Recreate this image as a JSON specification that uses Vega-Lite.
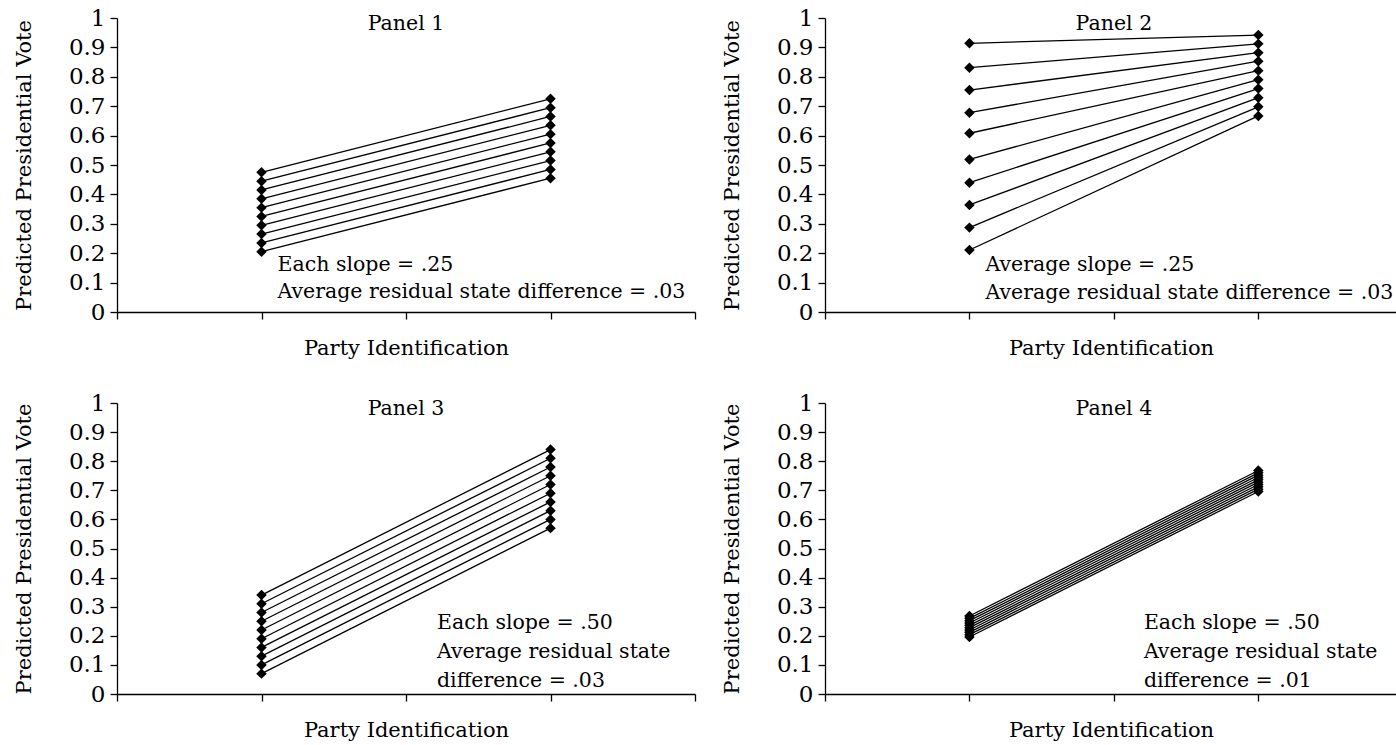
{
  "$schema": "https://vega.github.io/schema/vega-lite/v6.json",
  "background": "white",
  "padding": {"left": 13, "top": 7, "right": 0, "bottom": 0},
  "config": {
    "font": "DejaVu Serif",
    "view": {"stroke": null},
    "axis": {
      "grid": false,
      "domainColor": "black",
      "domainWidth": 1.3,
      "tickColor": "black",
      "tickWidth": 1.3,
      "tickSize": 7,
      "labelColor": "black",
      "titleColor": "black",
      "labelFont": "DejaVu Serif",
      "titleFont": "DejaVu Serif",
      "titleFontWeight": "normal",
      "labelFontSize": 23,
      "titleFontSize": 21
    },
    "text": {"font": "DejaVu Serif", "fontSize": 20.5, "color": "black"}
  },
  "datasets": {
    "votes": [
      {"panel": 1, "state": 1, "party": 1, "vote": 0.205}, {"panel": 1, "state": 1, "party": 3, "vote": 0.455},
      {"panel": 1, "state": 2, "party": 1, "vote": 0.235}, {"panel": 1, "state": 2, "party": 3, "vote": 0.485},
      {"panel": 1, "state": 3, "party": 1, "vote": 0.265}, {"panel": 1, "state": 3, "party": 3, "vote": 0.515},
      {"panel": 1, "state": 4, "party": 1, "vote": 0.295}, {"panel": 1, "state": 4, "party": 3, "vote": 0.545},
      {"panel": 1, "state": 5, "party": 1, "vote": 0.325}, {"panel": 1, "state": 5, "party": 3, "vote": 0.575},
      {"panel": 1, "state": 6, "party": 1, "vote": 0.355}, {"panel": 1, "state": 6, "party": 3, "vote": 0.605},
      {"panel": 1, "state": 7, "party": 1, "vote": 0.385}, {"panel": 1, "state": 7, "party": 3, "vote": 0.635},
      {"panel": 1, "state": 8, "party": 1, "vote": 0.415}, {"panel": 1, "state": 8, "party": 3, "vote": 0.665},
      {"panel": 1, "state": 9, "party": 1, "vote": 0.445}, {"panel": 1, "state": 9, "party": 3, "vote": 0.695},
      {"panel": 1, "state": 10, "party": 1, "vote": 0.475}, {"panel": 1, "state": 10, "party": 3, "vote": 0.725},

      {"panel": 2, "state": 1, "party": 1, "vote": 0.211}, {"panel": 2, "state": 1, "party": 3, "vote": 0.667},
      {"panel": 2, "state": 2, "party": 1, "vote": 0.287}, {"panel": 2, "state": 2, "party": 3, "vote": 0.698},
      {"panel": 2, "state": 3, "party": 1, "vote": 0.364}, {"panel": 2, "state": 3, "party": 3, "vote": 0.729},
      {"panel": 2, "state": 4, "party": 1, "vote": 0.440}, {"panel": 2, "state": 4, "party": 3, "vote": 0.760},
      {"panel": 2, "state": 5, "party": 1, "vote": 0.519}, {"panel": 2, "state": 5, "party": 3, "vote": 0.790},
      {"panel": 2, "state": 6, "party": 1, "vote": 0.608}, {"panel": 2, "state": 6, "party": 3, "vote": 0.821},
      {"panel": 2, "state": 7, "party": 1, "vote": 0.678}, {"panel": 2, "state": 7, "party": 3, "vote": 0.853},
      {"panel": 2, "state": 8, "party": 1, "vote": 0.755}, {"panel": 2, "state": 8, "party": 3, "vote": 0.882},
      {"panel": 2, "state": 9, "party": 1, "vote": 0.831}, {"panel": 2, "state": 9, "party": 3, "vote": 0.912},
      {"panel": 2, "state": 10, "party": 1, "vote": 0.914}, {"panel": 2, "state": 10, "party": 3, "vote": 0.942},

      {"panel": 3, "state": 1, "party": 1, "vote": 0.07}, {"panel": 3, "state": 1, "party": 3, "vote": 0.57},
      {"panel": 3, "state": 2, "party": 1, "vote": 0.10}, {"panel": 3, "state": 2, "party": 3, "vote": 0.60},
      {"panel": 3, "state": 3, "party": 1, "vote": 0.13}, {"panel": 3, "state": 3, "party": 3, "vote": 0.63},
      {"panel": 3, "state": 4, "party": 1, "vote": 0.16}, {"panel": 3, "state": 4, "party": 3, "vote": 0.66},
      {"panel": 3, "state": 5, "party": 1, "vote": 0.19}, {"panel": 3, "state": 5, "party": 3, "vote": 0.69},
      {"panel": 3, "state": 6, "party": 1, "vote": 0.22}, {"panel": 3, "state": 6, "party": 3, "vote": 0.72},
      {"panel": 3, "state": 7, "party": 1, "vote": 0.25}, {"panel": 3, "state": 7, "party": 3, "vote": 0.75},
      {"panel": 3, "state": 8, "party": 1, "vote": 0.28}, {"panel": 3, "state": 8, "party": 3, "vote": 0.78},
      {"panel": 3, "state": 9, "party": 1, "vote": 0.31}, {"panel": 3, "state": 9, "party": 3, "vote": 0.81},
      {"panel": 3, "state": 10, "party": 1, "vote": 0.34}, {"panel": 3, "state": 10, "party": 3, "vote": 0.84},

      {"panel": 4, "state": 1, "party": 1, "vote": 0.196}, {"panel": 4, "state": 1, "party": 3, "vote": 0.696},
      {"panel": 4, "state": 2, "party": 1, "vote": 0.204}, {"panel": 4, "state": 2, "party": 3, "vote": 0.704},
      {"panel": 4, "state": 3, "party": 1, "vote": 0.212}, {"panel": 4, "state": 3, "party": 3, "vote": 0.712},
      {"panel": 4, "state": 4, "party": 1, "vote": 0.220}, {"panel": 4, "state": 4, "party": 3, "vote": 0.720},
      {"panel": 4, "state": 5, "party": 1, "vote": 0.228}, {"panel": 4, "state": 5, "party": 3, "vote": 0.728},
      {"panel": 4, "state": 6, "party": 1, "vote": 0.236}, {"panel": 4, "state": 6, "party": 3, "vote": 0.736},
      {"panel": 4, "state": 7, "party": 1, "vote": 0.244}, {"panel": 4, "state": 7, "party": 3, "vote": 0.744},
      {"panel": 4, "state": 8, "party": 1, "vote": 0.252}, {"panel": 4, "state": 8, "party": 3, "vote": 0.752},
      {"panel": 4, "state": 9, "party": 1, "vote": 0.260}, {"panel": 4, "state": 9, "party": 3, "vote": 0.760},
      {"panel": 4, "state": 10, "party": 1, "vote": 0.268}, {"panel": 4, "state": 10, "party": 3, "vote": 0.768}
    ]
  },
  "columns": 2,
  "bounds": "flush",
  "spacing": {"row": 91, "column": 130},
  "concat": [
    {
      "width": 578,
      "height": 294,
      "encoding": {
        "x": {"type": "quantitative", "scale": {"domain": [0, 4], "nice": false, "zero": false},
              "axis": {"title": "Party Identification", "labels": false, "values": [0, 1, 2, 3, 4], "titlePadding": 18}},
        "y": {"type": "quantitative", "scale": {"domain": [0, 1], "nice": false},
              "axis": {"title": "Predicted Presidential Vote", "values": [0, 0.1, 0.2, 0.3, 0.4, 0.5, 0.6, 0.7, 0.8, 0.9, 1], "format": "~g", "labelPadding": 5, "titlePadding": 34}}
      },
      "layer": [
        {"data": {"name": "votes"}, "transform": [{"filter": "datum.panel == 1"}],
         "mark": {"type": "line", "color": "black", "strokeWidth": 1.3},
         "encoding": {"x": {"field": "party"}, "y": {"field": "vote"}, "detail": {"field": "state"}}},
        {"data": {"name": "votes"}, "transform": [{"filter": "datum.panel == 1"}],
         "mark": {"type": "point", "shape": "diamond", "filled": true, "color": "black", "opacity": 1, "size": 110},
         "encoding": {"x": {"field": "party"}, "y": {"field": "vote"}}},
        {"data": {"values": [{}]}, "mark": {"type": "text", "text": "Panel 1", "align": "center", "baseline": "alphabetic", "dy": 12},
         "encoding": {"x": {"datum": 2}, "y": {"datum": 1}}},
        {"data": {"values": [{}]}, "mark": {"type": "text", "text": "Each slope = .25", "align": "left", "baseline": "alphabetic", "dx": 16, "dy": -41},
         "encoding": {"x": {"datum": 1}, "y": {"datum": 0}}},
        {"data": {"values": [{}]}, "mark": {"type": "text", "text": "Average residual state difference = .03", "align": "left", "baseline": "alphabetic", "dx": 16, "dy": -14},
         "encoding": {"x": {"datum": 1}, "y": {"datum": 0}}}
      ]
    },
    {
      "width": 572,
      "height": 294,
      "encoding": {
        "x": {"type": "quantitative", "scale": {"domain": [0, 3.96], "nice": false, "zero": false},
              "axis": {"title": "Party Identification", "labels": false, "values": [0, 1, 2, 3], "titlePadding": 18}},
        "y": {"type": "quantitative", "scale": {"domain": [0, 1], "nice": false},
              "axis": {"title": "Predicted Presidential Vote", "values": [0, 0.1, 0.2, 0.3, 0.4, 0.5, 0.6, 0.7, 0.8, 0.9, 1], "format": "~g", "labelPadding": 5, "titlePadding": 34}}
      },
      "layer": [
        {"data": {"name": "votes"}, "transform": [{"filter": "datum.panel == 2"}],
         "mark": {"type": "line", "color": "black", "strokeWidth": 1.3},
         "encoding": {"x": {"field": "party"}, "y": {"field": "vote"}, "detail": {"field": "state"}}},
        {"data": {"name": "votes"}, "transform": [{"filter": "datum.panel == 2"}],
         "mark": {"type": "point", "shape": "diamond", "filled": true, "color": "black", "opacity": 1, "size": 110},
         "encoding": {"x": {"field": "party"}, "y": {"field": "vote"}}},
        {"data": {"values": [{}]}, "mark": {"type": "text", "text": "Panel 2", "align": "center", "baseline": "alphabetic", "dy": 12},
         "encoding": {"x": {"datum": 2}, "y": {"datum": 1}}},
        {"data": {"values": [{}]}, "mark": {"type": "text", "text": "Average slope = .25", "align": "left", "baseline": "alphabetic", "dx": 16, "dy": -41},
         "encoding": {"x": {"datum": 1}, "y": {"datum": 0}}},
        {"data": {"values": [{}]}, "mark": {"type": "text", "text": "Average residual state difference = .03", "align": "left", "baseline": "alphabetic", "dx": 16, "dy": -13},
         "encoding": {"x": {"datum": 1}, "y": {"datum": 0}}}
      ]
    },
    {
      "width": 578,
      "height": 291,
      "encoding": {
        "x": {"type": "quantitative", "scale": {"domain": [0, 4], "nice": false, "zero": false},
              "axis": {"title": "Party Identification", "labels": false, "values": [0, 1, 2, 3, 4], "titlePadding": 18}},
        "y": {"type": "quantitative", "scale": {"domain": [0, 1], "nice": false},
              "axis": {"title": "Predicted Presidential Vote", "values": [0, 0.1, 0.2, 0.3, 0.4, 0.5, 0.6, 0.7, 0.8, 0.9, 1], "format": "~g", "labelPadding": 5, "titlePadding": 34}}
      },
      "layer": [
        {"data": {"name": "votes"}, "transform": [{"filter": "datum.panel == 3"}],
         "mark": {"type": "line", "color": "black", "strokeWidth": 1.3},
         "encoding": {"x": {"field": "party"}, "y": {"field": "vote"}, "detail": {"field": "state"}}},
        {"data": {"name": "votes"}, "transform": [{"filter": "datum.panel == 3"}],
         "mark": {"type": "point", "shape": "diamond", "filled": true, "color": "black", "opacity": 1, "size": 110},
         "encoding": {"x": {"field": "party"}, "y": {"field": "vote"}}},
        {"data": {"values": [{}]}, "mark": {"type": "text", "text": "Panel 3", "align": "center", "baseline": "alphabetic", "dy": 12},
         "encoding": {"x": {"datum": 2}, "y": {"datum": 1}}},
        {"data": {"values": [{}]}, "mark": {"type": "text", "text": "Each slope = .50", "align": "left", "baseline": "alphabetic", "dx": 31, "dy": -65},
         "encoding": {"x": {"datum": 2}, "y": {"datum": 0}}},
        {"data": {"values": [{}]}, "mark": {"type": "text", "text": "Average residual state", "align": "left", "baseline": "alphabetic", "dx": 31, "dy": -36},
         "encoding": {"x": {"datum": 2}, "y": {"datum": 0}}},
        {"data": {"values": [{}]}, "mark": {"type": "text", "text": "difference = .03", "align": "left", "baseline": "alphabetic", "dx": 31, "dy": -7},
         "encoding": {"x": {"datum": 2}, "y": {"datum": 0}}}
      ]
    },
    {
      "width": 572,
      "height": 291,
      "encoding": {
        "x": {"type": "quantitative", "scale": {"domain": [0, 3.96], "nice": false, "zero": false},
              "axis": {"title": "Party Identification", "labels": false, "values": [0, 1, 2, 3], "titlePadding": 18}},
        "y": {"type": "quantitative", "scale": {"domain": [0, 1], "nice": false},
              "axis": {"title": "Predicted Presidential Vote", "values": [0, 0.1, 0.2, 0.3, 0.4, 0.5, 0.6, 0.7, 0.8, 0.9, 1], "format": "~g", "labelPadding": 5, "titlePadding": 34}}
      },
      "layer": [
        {"data": {"name": "votes"}, "transform": [{"filter": "datum.panel == 4"}],
         "mark": {"type": "line", "color": "black", "strokeWidth": 1.3},
         "encoding": {"x": {"field": "party"}, "y": {"field": "vote"}, "detail": {"field": "state"}}},
        {"data": {"name": "votes"}, "transform": [{"filter": "datum.panel == 4"}],
         "mark": {"type": "point", "shape": "diamond", "filled": true, "color": "black", "opacity": 1, "size": 110},
         "encoding": {"x": {"field": "party"}, "y": {"field": "vote"}}},
        {"data": {"values": [{}]}, "mark": {"type": "text", "text": "Panel 4", "align": "center", "baseline": "alphabetic", "dy": 12},
         "encoding": {"x": {"datum": 2}, "y": {"datum": 1}}},
        {"data": {"values": [{}]}, "mark": {"type": "text", "text": "Each slope = .50", "align": "left", "baseline": "alphabetic", "dx": 30, "dy": -65},
         "encoding": {"x": {"datum": 2}, "y": {"datum": 0}}},
        {"data": {"values": [{}]}, "mark": {"type": "text", "text": "Average residual state", "align": "left", "baseline": "alphabetic", "dx": 30, "dy": -36},
         "encoding": {"x": {"datum": 2}, "y": {"datum": 0}}},
        {"data": {"values": [{}]}, "mark": {"type": "text", "text": "difference = .01", "align": "left", "baseline": "alphabetic", "dx": 30, "dy": -7},
         "encoding": {"x": {"datum": 2}, "y": {"datum": 0}}}
      ]
    }
  ]
}
